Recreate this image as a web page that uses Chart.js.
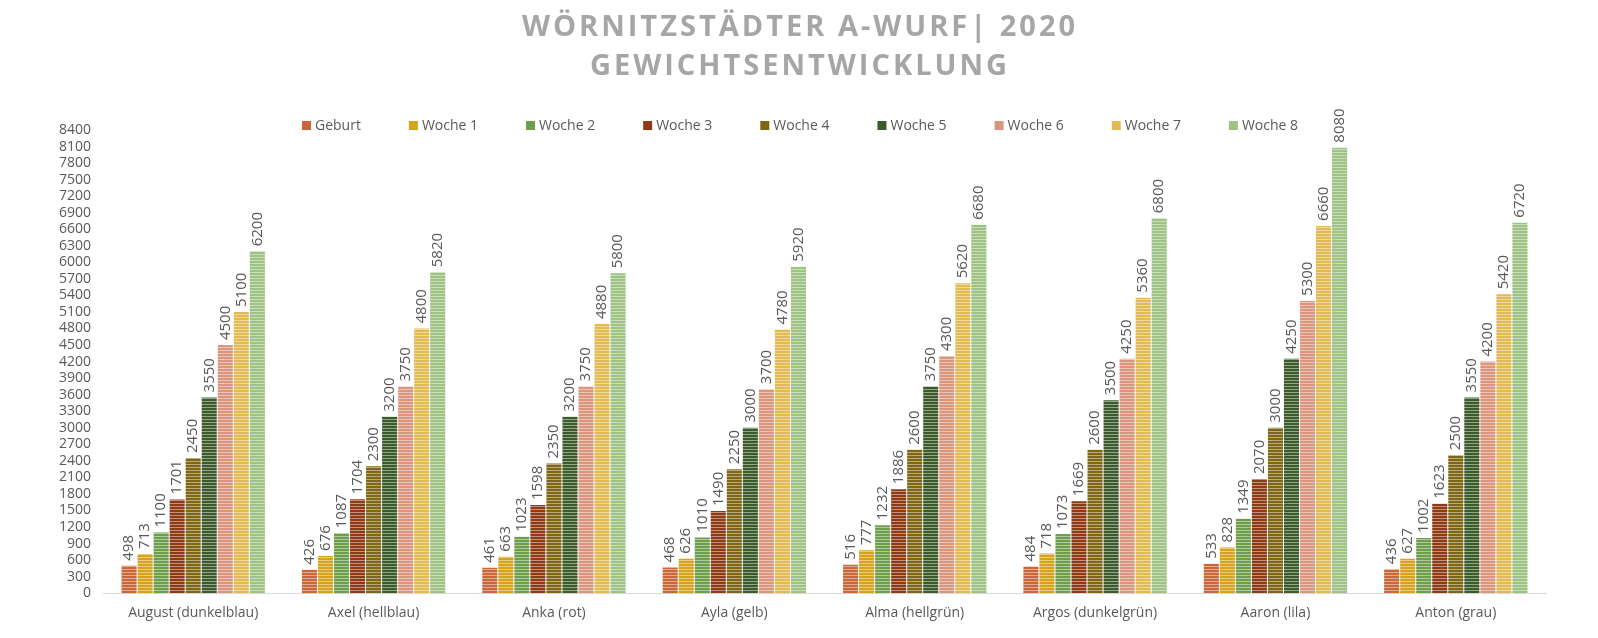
<!DOCTYPE html>
<html><head><meta charset="utf-8">
<script src="https://cdn.jsdelivr.net/npm/chart.js@4"></script>
<style>body{margin:0;background:#fff}#w{width:1598px;height:638px}</style>
</head><body><div id="w"><canvas id="c"></canvas></div>
<script>
const categories=["August (dunkelblau)","Axel (hellblau)","Anka (rot)","Ayla (gelb)","Alma (hellgrün)","Argos (dunkelgrün)","Aaron (lila)","Anton (grau)"];
const seriesNames=["Geburt","Woche 1","Woche 2","Woche 3","Woche 4","Woche 5","Woche 6","Woche 7","Woche 8"];
const titleLines=["WÖRNITZSTÄDTER A-WURF| 2020","GEWICHTSENTWICKLUNG"];
const geburt=[498,426,461,468,516,484,533,436];
const woche1=[713,676,663,626,777,718,828,627];
const woche2=[1100,1087,1023,1010,1232,1073,1349,1002];
const woche3=[1701,1704,1598,1490,1886,1669,2070,1623];
const woche4=[2450,2300,2350,2250,2600,2600,3000,2500];
const woche5=[3550,3200,3200,3000,3750,3500,4250,3550];
const woche6=[4500,3750,3750,3700,4300,4250,5300,4200];
const woche7=[5100,4800,4880,4780,5620,5360,6660,5420];
const woche8=[6200,5820,5800,5920,6680,6800,8080,6720];
const values=[geburt,woche1,woche2,woche3,woche4,woche5,woche6,woche7,woche8];
const colors=["#C9663A","#D6A21C","#6E9E4C","#8E3A14","#7F6614","#3B5C2A","#DA957C","#E2BA52","#9DC283"];
function pat(c){const p=document.createElement('canvas');p.width=4;p.height=3;const x=p.getContext('2d');x.fillStyle=c;x.fillRect(0,0,4,3);x.fillStyle='rgba(255,255,255,0.45)';x.fillRect(0,2,4,1);return x.createPattern(p,'repeat');}
const deco={id:'deco',afterDraw(ch){const ctx=ch.ctx;ctx.save();
// title
ctx.font='bold 29px "Open Sans"';ctx.fillStyle='#A6A6A6';ctx.textAlign='center';ctx.textBaseline='middle';
try{ctx.letterSpacing='3px';}catch(e){}
ctx.fillText(titleLines[0],800,28);ctx.fillText(titleLines[1],800,67);
try{ctx.letterSpacing='0px';}catch(e){}
// legend
ctx.font='14px "Open Sans"';ctx.textAlign='left';ctx.fillStyle='#595959';
const gap=48,box=9;let widths=seriesNames.map(n=>box+4+ctx.measureText(n).width);
let total=widths.reduce((a,b)=>a+b,0)+gap*(widths.length-1);let x=800-total/2;
seriesNames.forEach((n,i)=>{ctx.fillStyle=colors[i];ctx.fillRect(x,121,box,box);ctx.fillStyle='#595959';ctx.fillText(n,x+box+4,126);x+=widths[i]+gap;});
ctx.restore();},
afterDatasetsDraw(ch){const ctx=ch.ctx;ctx.save();ctx.font='15px "Open Sans"';ctx.fillStyle='#595959';ctx.textAlign='left';ctx.textBaseline='middle';
ch.data.datasets.forEach((d,i)=>{ch.getDatasetMeta(i).data.forEach((b,j)=>{ctx.save();ctx.translate(b.x,b.y-5);ctx.rotate(-Math.PI/2);ctx.fillText(String(d.data[j]),0,0);ctx.restore();});});ctx.restore();}};
new Chart(document.getElementById('c'),{type:'bar',
data:{labels:categories,datasets:seriesNames.map((n,i)=>({label:n,data:values[i],backgroundColor:pat(colors[i]),borderWidth:0}))},
options:{responsive:true,maintainAspectRatio:false,animation:false,
layout:{padding:{left:55,right:52,top:130,bottom:14}},
datasets:{bar:{categoryPercentage:0.8,barPercentage:0.94}},
plugins:{title:{display:false},legend:{display:false},tooltip:{enabled:false}},
scales:{x:{grid:{display:false},border:{color:'#D9D9D9'},ticks:{color:'#595959',font:{family:'"Open Sans"',size:14}}},
y:{min:0,max:8400,grid:{display:false},border:{display:false},ticks:{stepSize:300,autoSkip:false,color:'#595959',font:{family:'"Open Sans"',size:14},padding:4,callback:v=>String(v)}}}},
plugins:[deco]});
</script></body></html>
